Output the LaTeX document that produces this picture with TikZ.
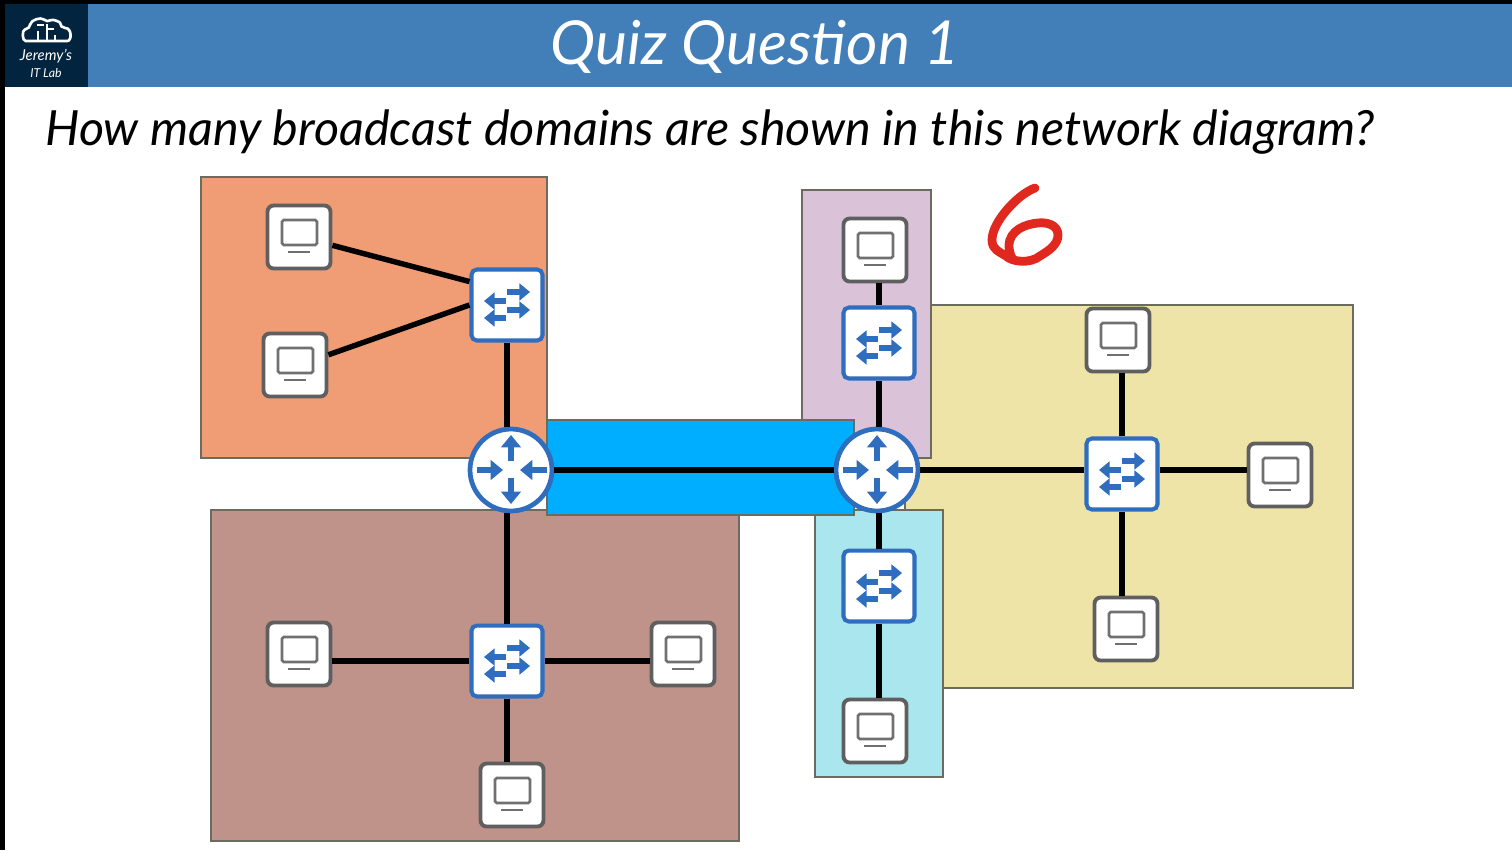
\documentclass[tikz,border=0pt]{standalone}
\usepackage{fontspec}
\usetikzlibrary{arrows.meta}
\setmainfont{Lato}
\begin{document}
\begin{tikzpicture}[
    x=0.02cm, y=-0.02cm,
    handtext/.style={inner sep=0pt},
    domainbox/.style={draw=boxline, line width=0.6pt},
    wire/.style={draw=black, line width=3.1pt},
    pcbox/.style={draw=pcgrey, fill=white, line width=2.2pt, rounded corners=3.5pt,
      minimum size=1.26cm, inner sep=0pt},
    swbox/.style={draw=netblue, fill=white, line width=2.3pt, rounded corners=3pt,
      minimum size=1.42cm, inner sep=0pt},
    rtcircle/.style={circle, draw=netblue, fill=white, line width=2.7pt,
      minimum size=1.64cm, inner sep=0pt},
    swarrow/.style={draw=netblue, line width=2.9pt, -{Triangle[length=6pt,width=9.5pt]}},
    rtarrow/.style={draw=netblue, line width=3.6pt, -{Triangle[length=7pt,width=11pt]}},
    pcline/.style={draw=pcline, line width=1.5pt}
]
\definecolor{boxline}{HTML}{6B6B60}
\definecolor{pcgrey}{HTML}{5F5F5F}
\definecolor{pcline}{HTML}{707070}
\definecolor{netblue}{HTML}{2F6DBE}
\definecolor{header}{HTML}{427EB8}
\definecolor{logobg}{HTML}{03243F}
\definecolor{orangedom}{HTML}{F09C75}
\definecolor{purpledom}{HTML}{DAC2D9}
\definecolor{yellowdom}{HTML}{EFE4A7}
\definecolor{cyandom}{HTML}{A9E6ED}
\definecolor{browndom}{HTML}{BF928A}
\definecolor{bluedom}{HTML}{00AEFF}
\definecolor{redink}{HTML}{E0281E}

\useasboundingbox (0,0) rectangle (1512,850);
\fill[white] (0,0) rectangle (1512,850);

% Slide header
\fill[black] (0,0) rectangle (1512,4);
\fill[black] (0,0) rectangle (5,850);
\fill[header] (88,4) rectangle (1512,87);
\fill[logobg] (5,4) rectangle (88,87);
\draw[white, line width=1.5pt, rounded corners=3pt]
  (31,41) .. controls (22,41) and (22,30) .. (30,29)
  .. controls (31,20) and (41,17) .. (47,23)
  .. controls (53,19) and (60,22) .. (60,28)
  .. controls (72,28) and (72,41) .. (62,41) -- cycle;
\draw[white, line width=1.1pt] (38,41) -- (38,31) (47,41) -- (47,24) (47,29) -- (54,29)
  (55,41) -- (55,35) (37,25) -- (44,25);
\node[handtext, text=white, font=\itshape\fontsize{8.5pt}{10pt}\selectfont] (logoa) at (46,56) {Jeremy's};
\node[handtext, text=white, font=\itshape\fontsize{7pt}{9pt}\selectfont] (logob) at (46,73) {IT Lab};
\node[handtext, text=white, font=\itshape\fontsize{34.5pt}{38pt}\selectfont] (title) at (755,47) {Quiz Question 1};
\node[handtext, text=black, font=\itshape\fontsize{27.6pt}{32pt}\selectfont, anchor=west] (question)
  at (45,132) {How many broadcast domains are shown in this network diagram?};

% Broadcast domains
\fill[domainbox, fill=yellowdom] (905,305) rectangle (1353,688);
\fill[domainbox, fill=purpledom] (802,190) rectangle (931,458);
\fill[domainbox, fill=cyandom] (815,510) rectangle (943,777);
\fill[domainbox, fill=orangedom] (201,177) rectangle (547,458);
\fill[domainbox, fill=browndom] (211,510) rectangle (739,841);
\fill[domainbox, fill=bluedom] (547,420) rectangle (854,515);

% Devices
\foreach \name/\x/\y in {
    pca/299/237, pcb/295/365, pcc/875/250, pcd/1118/340, pce/1280/475,
    pcf/1126/629, pcg/875/731, pch/299/654, pci/683/654, pcj/512/795} {
  \node[pcbox] (\name) at (\x,\y) {};
  \draw[pcline, rounded corners=1pt] (\x-17,\y-17) rectangle (\x+18,\y+8);
  \draw[pcline] (\x-11,\y+15) -- (\x+11,\y+15);
}
\foreach \name/\x/\y in {
    swa/507/305, swb/879/343, swc/1122/474, swd/879/586, swe/507/661} {
  \node[swbox] (\name) at (\x,\y) {};
  \draw[swarrow] (\x,\y-13) -- (\x+23,\y-13);
  \draw[swarrow] (\x-1,\y-4) -- (\x-23,\y-4);
  \draw[swarrow] (\x,\y+5) -- (\x+23,\y+5);
  \draw[swarrow] (\x-1,\y+13) -- (\x-23,\y+13);
}
\foreach \name/\x/\y in {rta/511/470, rtb/877/470} {
  \node[rtcircle] (\name) at (\x,\y) {};
  \draw[rtarrow] (\x,\y-9) -- (\x,\y-35);
  \draw[rtarrow] (\x,\y+8) -- (\x,\y+34);
  \draw[rtarrow] (\x-34,\y) -- (\x-8,\y);
  \draw[rtarrow] (\x+36,\y) -- (\x+9,\y);
}

% Links
\draw[wire] (pca.-14) -- (swa.148);
\draw[wire] (pcb.17) -- (swa.west);
\draw[wire] (swa.south) -- (swa.south |- rta.north);
\draw[wire] (rta.east) -- (rtb.west);
\draw[wire] (rta.south -| swe.north) -- (swe.north);
\draw[wire] (pch.east |- swe.west) -- (swe.west);
\draw[wire] (swe.east) -- (pci.west |- swe.east);
\draw[wire] (swe.south) -- (swe.south |- pcj.north);
\draw[wire] (swb.north) -- (swb.north |- pcc.south);
\draw[wire] (swb.south) -- (swb.south |- rtb.north);
\draw[wire] (swd.north) -- (swd.north |- rtb.south);
\draw[wire] (swd.south) -- (swd.south |- pcg.north);
\draw[wire] (rtb.east) -- (swc.west |- rtb.east);
\draw[wire] (swc.north) -- (swc.north |- pcd.south);
\draw[wire] (swc.east |- rtb.east) -- (pce.west |- rtb.east);
\draw[wire] (swc.south) -- (swc.south |- pcf.north);

% Handwritten answer
\draw[redink, line width=5pt, line cap=round, line join=round]
  (1035,188) .. controls (1018,194) and (992,222) .. (992,240)
  .. controls (992,250) and (1000,252) .. (1006,256)
  .. controls (1012,262) and (1030,264) .. (1040,256)
  .. controls (1050,250) and (1058,244) .. (1058,235)
  .. controls (1058,224) and (1045,222) .. (1038,223)
  .. controls (1026,224) and (1009,230) .. (1009,246)
  .. controls (1009,250) and (1010,254) .. (1012,258);
\end{tikzpicture}
\end{document}
